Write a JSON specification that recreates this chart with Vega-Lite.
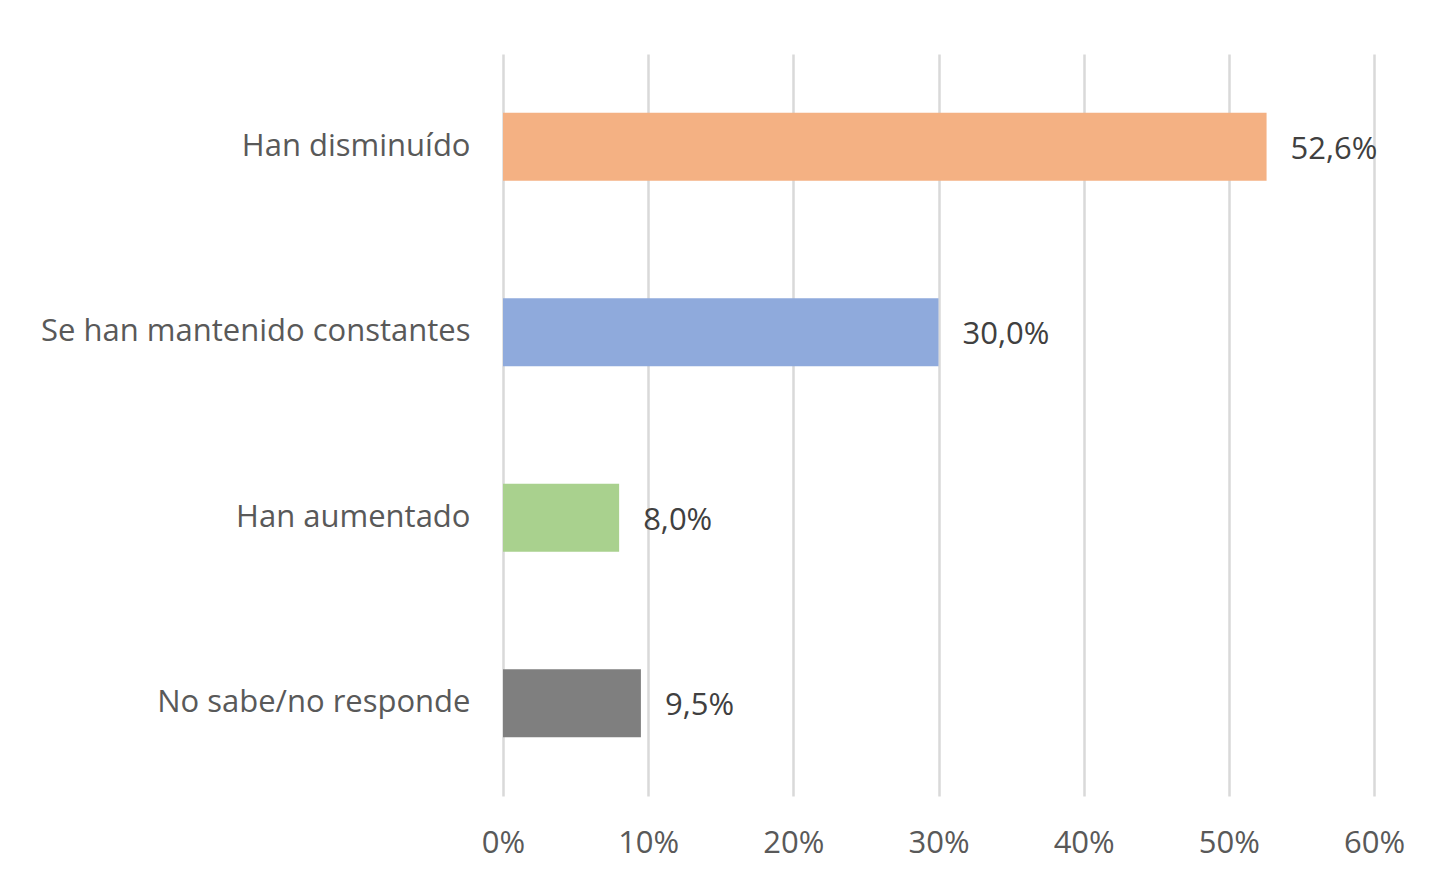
{
  "$schema": "https://vega.github.io/schema/vega-lite/v6.json",
  "width": 871,
  "height": 742,
  "autosize": {"type": "none"},
  "padding": {"left": 503, "top": 54, "right": 61, "bottom": 88},
  "background": "white",
  "config": {
    "view": {"stroke": null},
    "font": "Open Sans",
    "locale": {"number": {"decimal": ",", "thousands": ".", "grouping": [3], "currency": ["", " €"]}}
  },
  "data": {
    "values": [
      {"categoria": "Han disminuído", "valor": 0.526},
      {"categoria": "Se han mantenido constantes", "valor": 0.300},
      {"categoria": "Han aumentado", "valor": 0.080},
      {"categoria": "No sabe/no responde", "valor": 0.095}
    ]
  },
  "encoding": {
    "y": {
      "field": "categoria",
      "type": "nominal",
      "sort": null,
      "scale": {"paddingInner": 0.633, "paddingOuter": 0.3165},
      "axis": {
        "title": null,
        "ticks": false,
        "domain": false,
        "labelFont": "Open Sans",
        "labelFontSize": 31,
        "labelColor": "#595959",
        "labelPadding": 33,
        "labelLimit": 0
      }
    },
    "x": {
      "field": "valor",
      "type": "quantitative",
      "scale": {"domain": [0, 0.6], "nice": false},
      "axis": {
        "title": null,
        "values": [0, 0.1, 0.2, 0.3, 0.4, 0.5, 0.6],
        "format": ".0%",
        "grid": true,
        "gridColor": "#d9d9d9",
        "gridWidth": 2.5,
        "domain": false,
        "ticks": false,
        "labelFont": "Open Sans",
        "labelFontSize": 31,
        "labelColor": "#595959",
        "labelPadding": 32,
        "labelFlush": false
      }
    }
  },
  "layer": [
    {
      "mark": {"type": "bar"},
      "encoding": {
        "color": {
          "field": "categoria",
          "type": "nominal",
          "scale": {
            "domain": ["Han disminuído", "Se han mantenido constantes", "Han aumentado", "No sabe/no responde"],
            "range": ["#F4B183", "#8FAADC", "#A9D18E", "#7F7F7F"]
          },
          "legend": null
        }
      }
    },
    {
      "mark": {"type": "text", "align": "left", "baseline": "middle", "dx": 24, "dy": 3, "font": "Open Sans", "fontSize": 31, "color": "#404040"},
      "encoding": {
        "text": {"field": "valor", "type": "quantitative", "format": ".1%"}
      }
    }
  ]
}
